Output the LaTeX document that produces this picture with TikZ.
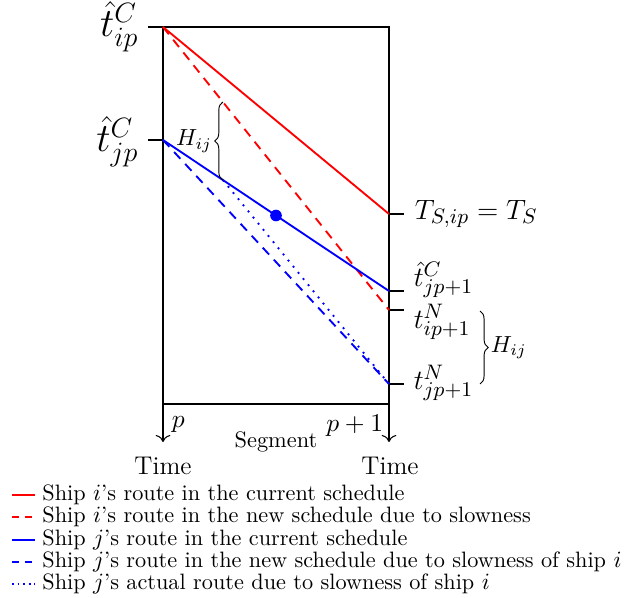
\documentclass[tikz,border=0pt]{standalone}
\usetikzlibrary{decorations.pathreplacing,arrows.meta,calc}
\begin{document}
\begin{tikzpicture}[x=0.4292pt,y=-0.4292pt,
  redl/.style={red,line width=0.8pt},
  bluel/.style={blue,line width=0.8pt},
  dashl/.style={dash pattern=on 4pt off 3pt},
  dotl/.style={line width=0.8pt,dash pattern=on 0.8pt off 2.6pt},
  tick/.style={line width=0.45pt},
  lab/.style={font=\fontsize{12.5}{15}\selectfont,inner sep=1pt},
  biglab/.style={font=\fontsize{16.5}{19}\selectfont,inner sep=0pt},
  axlab/.style={font=\fontsize{11}{13}\selectfont,inner sep=1pt},
  legline/.style={line width=0.8pt},
  legtext/.style={anchor=west,inner sep=0pt,font=\fontsize{9.55}{11}\selectfont}]
\useasboundingbox (0,0) rectangle (632,598);
% frame
\coordinate (TT) at (148,27);
\coordinate (TL) at (163,27);
\coordinate (TR) at (389,27);
\coordinate (BL) at (163,404);
\coordinate (BR) at (389,404);
\draw[tick] (TT) -- (TR) -- (BR) -- (BL) -- (TL);
% points
\coordinate (Bj) at (163,140);
\coordinate (BjT) at (148,140);
\coordinate (Rs) at (389,214);
\coordinate (Bs) at (389,291);
\coordinate (Rd) at (389,310);
\coordinate (Bd) at (389,384);
\coordinate (RsT) at (404,214);
\coordinate (BsT) at (404,291);
\coordinate (RdT) at (404,310);
\coordinate (BdT) at (404,384);
\draw[tick] (BjT) -- (Bj);
\draw[tick] (Rs) -- (RsT);
\draw[tick] (Bs) -- (BsT);
\draw[tick] (Rd) -- (RdT);
\draw[tick] (Bd) -- (BdT);
% routes
\draw[redl] (TL) -- (Rs);
\draw[redl,dashl] (TL) -- (Rd);
\draw[bluel] (Bj) -- (Bs);
\draw[bluel,dashl] (Bj) -- (Bd);
\coordinate (Hb) at ($(Bj)!0.265!(Bs)$);
\coordinate (Ht) at ($(TL)!0.265!(Rd)$);
\draw[blue,dotl] (Hb) -- (Bd);
\node[circle,fill=blue,inner sep=0pt,minimum size=5pt] (dot) at ($(Bj)!0.5!(Bs)$) {};
% brace
\draw[decorate,decoration={brace,amplitude=3.5pt},line width=0.4pt] (Hb) -- (Ht)
  node[midway,anchor=east,xshift=-3.5pt,inner sep=1pt] (H1) {$H_{ij}$};
\coordinate (Rb1) at (480,311);
\coordinate (Rb2) at (480,384);
\draw[decorate,decoration={brace,amplitude=3.5pt},line width=0.4pt] (Rb1) -- (Rb2)
  node[midway,anchor=west,xshift=3.5pt,inner sep=1pt] (H2) {$H_{ij}$};
% labels
\node[biglab,anchor=east] (l1) at (139,27) {$\hat{t}^{C}_{ip}$};
\node[biglab,anchor=east] (l2) at (139,142) {$\hat{t}^{C}_{jp}$};
\node[lab,anchor=west] (r1) at (412,214) {$T_{S,ip}=T_S$};
\node[lab,anchor=west] (r2) at (411,280) {$\hat{t}^{C}_{jp+1}$};
\node[lab,anchor=west] (r3) at (411,322) {$t^{N}_{ip+1}$};
\node[lab,anchor=west] (r4) at (411,383) {$t^{N}_{jp+1}$};
% axes
\coordinate (A1) at (163,442);
\coordinate (A2) at (389,442);
\draw[tick,-{To[length=3pt]}] (BL) -- (A1);
\draw[tick,-{To[length=3pt]}] (BR) -- (A2);
\node[axlab,anchor=west] (p) at (169,424) {$p$};
\node[axlab,anchor=east] (p1) at (386,426) {$p+1$};
\node[font=\fontsize{9.6}{11}\selectfont] (seg) at (276,442) {Segment};
\node[axlab] (t1) at (163,466) {Time};
\node[axlab] (t2) at (390,466) {Time};
% legend
\coordinate (a1) at (12,495); \coordinate (b1) at (35,495);
\coordinate (a2) at (12,517); \coordinate (b2) at (35,517);
\coordinate (a3) at (12,540); \coordinate (b3) at (35,540);
\coordinate (a4) at (12,562); \coordinate (b4) at (35,562);
\coordinate (a5) at (12,584); \coordinate (b5) at (35,584);
\draw[red,legline] (a1) -- (b1);
\draw[red,legline,dash pattern=on 3pt off 2.5pt] (a2) -- (b2);
\draw[blue,legline] (a3) -- (b3);
\draw[blue,legline,dash pattern=on 3pt off 2.5pt] (a4) -- (b4);
\draw[blue,dotl,dash pattern=on 0.8pt off 1.6pt] (a5) -- (b5);
\node[legtext] (g1) at (42,495) {Ship $i$'s route in the current schedule};
\node[legtext] (g2) at (42,517) {Ship $i$'s route in the new schedule due to slowness};
\node[legtext] (g3) at (42,540) {Ship $j$'s route in the current schedule};
\node[legtext] (g4) at (42,562) {Ship $j$'s route in the new schedule due to slowness of ship $i$};
\node[legtext] (g5) at (42,584) {Ship $j$'s actual route due to slowness of ship $i$};
\end{tikzpicture}
\end{document}
